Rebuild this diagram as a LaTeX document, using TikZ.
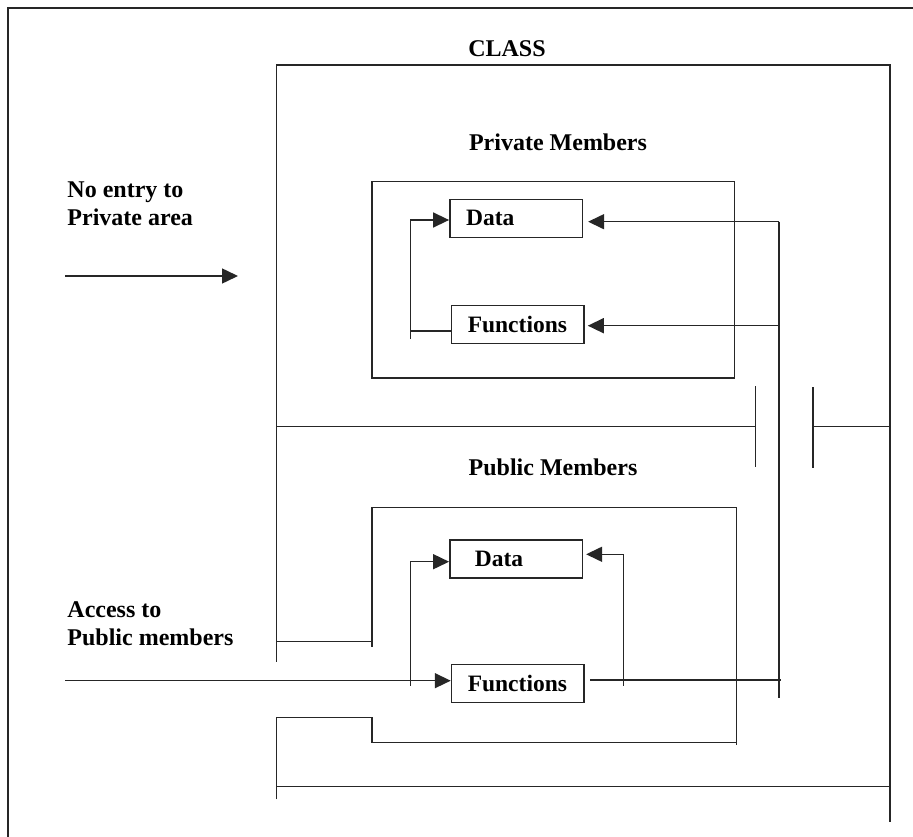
\documentclass[tikz,border=0pt]{standalone}
\usepackage{fontspec}
\setmainfont{Liberation Serif}
\usetikzlibrary{arrows.meta}
\begin{document}
\begin{tikzpicture}[x=1pt,y=-1pt,line width=1.5pt,draw=black!85,
  arr/.style={-{Triangle[length=16pt,width=15pt]}},
  lbl/.style={font=\fontsize{24}{28.4}\selectfont\bfseries,inner sep=0pt},
  box/.style={draw,minimum height=38pt,inner ysep=0pt,inner xsep=16.25pt,text width=100pt,align=left,
    font=\fontsize{23.5}{28}\selectfont\bfseries},
  boxw/.style={draw,minimum height=38pt,inner ysep=0pt,inner xsep=25pt,text width=82.5pt,align=left,
    font=\fontsize{23.5}{28}\selectfont\bfseries}]
\useasboundingbox (0,0) rectangle (913,837);
% outer frame
\draw[line width=2pt] (8,837) -- (8,8) -- (913,8);
% titles
\node[lbl,anchor=base] (cls) at (507,56.7) {CLASS};
\node[lbl,anchor=base] (privt) at (558,150.7) {Private Members};
\node[lbl,anchor=base] (pubt) at (553,475) {Public Members};
\node[lbl,anchor=north west,align=left] (noentry) at (66.7,181) {No entry to\\Private area};
\node[lbl,anchor=north west,align=left] (access) at (66.7,601) {Access to\\Public members};
% class outline
\draw (276.6,661.7) -- (276.6,65) -- (890,65) -- (890,822);
\draw (276.6,426.5) -- (755.7,426.5);
\draw (755.7,386) -- (755.7,467);
\draw (813,426.5) -- (890,426.5);
\draw (813,387) -- (813,468);
% private box
\draw (372,181.7) rectangle (734.5,378);
% public box
\draw (276.6,641.7) -- (372,641.7) -- (372,507.7) -- (736.6,507.7) -- (736.6,745);
\draw (372,507.7) -- (372,646.7);
\draw (276.6,799.3) -- (276.6,717.3) -- (372,717.3) -- (372,742.3) -- (736.6,742.3);
\draw (276.6,786.7) -- (890,786.7);
% member boxes
\node[box] (dp) at (516.1,218.3) {Data};
\node[box] (fp) at (517.75,324.3) {Functions};
\node[boxw] (dq) at (516.1,559.15) {Data};
\node[box] (fq) at (517.75,683.5) {Functions};
% private connectors
\coordinate (pLb) at (410.4,339);
\coordinate (pLt) at (410.4,220);
\coordinate (pLf) at (410.4,331);
\draw[arr] (pLb) -- (pLt) -- (pLt -| dp.west);
\draw (pLf) -- (pLf -| fp.west);
\coordinate (rT) at (779,221.7);
\coordinate (rF) at (779,325.7);
\coordinate (rB) at (779,698);
\draw[arr,shorten >=5pt] (rT) -- (rT -| dp.east);
\draw[arr,shorten >=3pt] (rF) -- (rF -| fp.east);
\draw (rT) -- (rB);
% public connectors
\coordinate (qLb) at (410.4,685.7);
\coordinate (qLt) at (410.4,561.7);
\draw[arr] (qLb) -- (qLt) -- (qLt -| dq.west);
\coordinate (qRb) at (623.4,685.7);
\coordinate (qRt) at (623.4,554.3);
\draw[arr,shorten >=3pt] (qRb) -- (qRt) -- (qRt -| dq.east);
\coordinate (in) at (65,680.7);
\draw[arr] (in) -- (in -| fq.west);
\coordinate (qo) at (781,680);
\draw (qo -| fq.east) ++(5.5,0) -- (qo);
% no entry arrow
\coordinate (ne1) at (65,276);
\coordinate (ne2) at (238,276);
\draw[arr] (ne1) -- (ne2);
\end{tikzpicture}
\end{document}
